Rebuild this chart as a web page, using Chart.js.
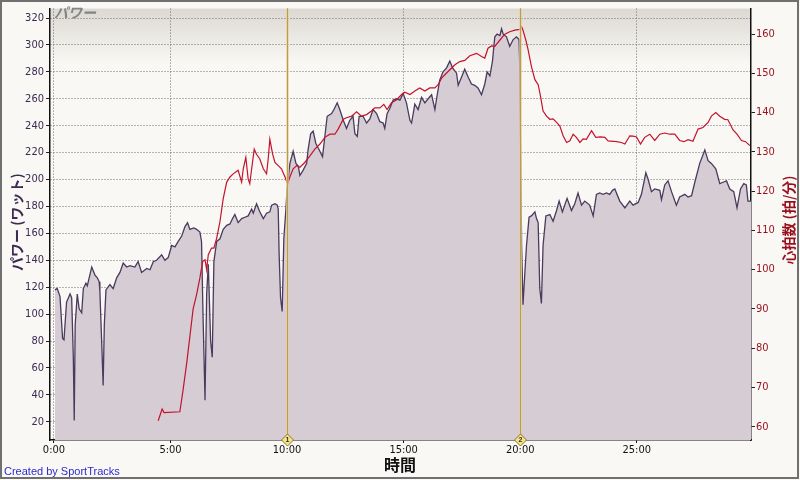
<!DOCTYPE html>
<html>
<head>
<meta charset="utf-8">
<script src="https://cdn.jsdelivr.net/npm/chart.js@4/dist/chart.umd.min.js"></script>
<style>
  html, body { margin: 0; padding: 0; background: #f9f8f4; }
  #wrap { width: 800px; height: 480px; position: relative; }
</style>
</head>
<body>
<div id="wrap"><canvas id="powerChart" width="800" height="480"></canvas></div>
<script>
// time in minutes, power in watts
const powerTime = [0.04, 0.14, 0.26, 0.37, 0.43, 0.54, 0.69, 0.76, 0.83, 0.87, 0.91, 1.00, 1.08, 1.19, 1.26, 1.37, 1.43, 1.51, 1.62, 1.76,
  1.86, 1.94, 1.97, 2.05, 2.11, 2.16, 2.23, 2.40, 2.54, 2.69, 2.83, 2.97, 3.12, 3.26, 3.47, 3.61, 3.76, 3.98, 4.12, 4.26,
  4.40, 4.62, 4.76, 4.90, 5.05, 5.19, 5.33, 5.48, 5.62, 5.73, 5.83, 6.00, 6.12, 6.26, 6.33, 6.40, 6.48, 6.55, 6.62, 6.72,
  6.79, 6.86, 6.98, 7.12, 7.26, 7.41, 7.55, 7.66, 7.76, 7.90, 8.05, 8.19, 8.33, 8.48, 8.55, 8.69, 8.83, 8.98, 9.12, 9.26,
  9.34, 9.48, 9.58, 9.62, 9.66, 9.72, 9.79, 9.86, 9.95, 10.00, 10.12, 10.26, 10.38, 10.48, 10.55, 10.69, 10.84, 10.90, 11.01, 11.12,
  11.23, 11.38, 11.52, 11.62, 11.72, 11.91, 12.01, 12.15, 12.26, 12.41, 12.55, 12.69, 12.83, 12.91, 13.01, 13.09, 13.26, 13.41, 13.55, 13.69,
  13.84, 13.98, 14.12, 14.19, 14.29, 14.41, 14.55, 14.70, 14.84, 14.98, 15.12, 15.27, 15.34, 15.48, 15.62, 15.77, 15.91, 16.05, 16.20, 16.34,
  16.44, 16.55, 16.69, 16.84, 16.98, 17.10, 17.27, 17.34, 17.48, 17.62, 17.77, 17.91, 18.05, 18.19, 18.34, 18.48, 18.58, 18.70, 18.81, 18.91,
  19.01, 19.13, 19.20, 19.27, 19.41, 19.55, 19.70, 19.84, 19.95, 19.98, 20.06, 20.12, 20.20, 20.27, 20.38, 20.48, 20.63, 20.70, 20.77, 20.84,
  20.91, 20.98, 21.10, 21.27, 21.41, 21.56, 21.67, 21.81, 22.01, 22.20, 22.34, 22.48, 22.63, 22.77, 22.98, 23.13, 23.27, 23.41, 23.55, 23.70,
  23.84, 23.96, 24.06, 24.27, 24.49, 24.70, 24.84, 25.06, 25.20, 25.39, 25.49, 25.63, 25.77, 25.99, 26.06, 26.20, 26.34, 26.49, 26.70, 26.84,
  27.06, 27.20, 27.35, 27.49, 27.70, 27.92, 28.06, 28.20, 28.39, 28.56, 28.70, 28.85, 28.99, 29.16, 29.30, 29.45, 29.59, 29.70, 29.77, 29.92];
const powerWatts = [118, 119, 113, 82, 81, 109, 115, 112, 68, 21, 92, 115, 104, 101, 119, 123, 121, 127, 135, 129,
  127, 124, 117, 78, 47, 92, 118, 122, 119, 127, 131, 138, 135, 136, 135, 139, 131, 134, 133, 139,
  140, 144, 140, 142, 151, 150, 154, 158, 165, 168, 163, 164, 163, 161, 154, 95, 36, 115, 137, 80,
  68, 139, 154, 156, 163, 166, 167, 171, 174, 168, 171, 172, 173, 178, 175, 182, 176, 171, 175, 176,
  181, 182, 181, 178, 144, 112, 102, 156, 178, 193, 212, 221, 212, 210, 203, 207, 212, 222, 234, 236,
  227, 222, 217, 232, 247, 249, 252, 257, 252, 244, 238, 244, 247, 234, 232, 247, 247, 242, 245, 252,
  249, 243, 242, 238, 249, 253, 259, 260, 259, 264, 257, 244, 242, 256, 252, 261, 257, 260, 263, 252,
  263, 274, 280, 283, 288, 283, 279, 270, 276, 282, 276, 271, 270, 268, 263, 271, 280, 277, 288, 306,
  308, 307, 312, 308, 306, 299, 304, 306, 304, 286, 151, 107, 131, 151, 172, 173, 176, 171, 168, 119,
  108, 151, 173, 174, 169, 177, 184, 176, 186, 177, 182, 190, 181, 184, 181, 173, 189, 190, 189, 190,
  189, 192, 193, 184, 179, 184, 181, 183, 189, 205, 200, 191, 193, 192, 185, 196, 199, 191, 181, 187,
  189, 187, 188, 198, 212, 222, 214, 212, 208, 197, 198, 199, 193, 191, 179, 193, 197, 196, 184, 184];

// time in minutes, heart rate in bpm
const hrTime = [4.47, 4.64, 4.72, 5.40, 5.53, 5.69, 5.83, 5.97, 6.12, 6.26, 6.38, 6.48, 6.55, 6.62, 6.76, 6.86, 6.98, 7.12, 7.26, 7.41,
  7.55, 7.69, 7.90, 8.05, 8.12, 8.23, 8.33, 8.40, 8.48, 8.59, 8.69, 8.83, 8.98, 9.12, 9.19, 9.26, 9.38, 9.48, 9.62, 9.76,
  9.91, 10.02, 10.12, 10.26, 10.41, 10.55, 10.76, 10.98, 11.19, 11.41, 11.62, 11.84, 12.05, 12.19, 12.41, 12.55, 12.77, 12.98, 13.19, 13.41,
  13.62, 13.76, 13.98, 14.15, 14.29, 14.48, 14.70, 14.91, 15.05, 15.27, 15.48, 15.69, 15.91, 16.12, 16.34, 16.48, 16.63, 16.84, 17.05, 17.20,
  17.41, 17.62, 17.84, 18.13, 18.34, 18.48, 18.62, 18.77, 18.91, 19.13, 19.34, 19.55, 19.77, 19.98, 20.06, 20.12, 20.24, 20.34, 20.48, 20.63,
  20.77, 20.87, 20.98, 21.13, 21.27, 21.41, 21.56, 21.70, 21.84, 21.99, 22.13, 22.27, 22.41, 22.56, 22.70, 22.84, 23.06, 23.24, 23.44, 23.63,
  23.77, 24.01, 24.13, 24.34, 24.49, 24.70, 24.84, 24.99, 25.16, 25.34, 25.56, 25.77, 25.99, 26.20, 26.41, 26.63, 26.84, 27.02, 27.20, 27.41,
  27.63, 27.84, 28.06, 28.20, 28.39, 28.56, 28.77, 28.91, 29.13, 29.30, 29.49, 29.67, 29.85];
const hrBpm = [61.5, 64.5, 63.6, 63.8, 69, 76, 83, 90, 93.7, 97.9, 102.1, 102.5, 100, 103.8, 105.5, 105.5, 108, 112.2, 118.1, 122.3,
  123.6, 124.4, 125.3, 122.3, 125.7, 128.6, 123.1, 121.9, 125.7, 130.7, 129.4, 128.2, 125.7, 124.4, 128.2, 133.2, 129.4, 127.3, 126.5, 125.7,
  123.6, 121.9, 123.6, 125.7, 126.5, 126.1, 127.3, 129, 130.7, 132, 133.7, 134.5, 134.5, 135.8, 138.3, 138.7, 139.1, 140.2, 139.1, 139.5,
  140.4, 141.2, 141.2, 142.1, 140.8, 142.5, 143.3, 144.6, 145.2, 144.6, 145.5, 146.3, 145.5, 146.3, 146.3, 147.1, 148.8, 150.1, 151.3, 152.2,
  153, 153.3, 154.5, 155.1, 154.3, 153.9, 156.4, 157, 156.9, 158.5, 160, 160.6, 161, 161.2, 161.9, 161, 158.5, 156, 151.8, 148.4,
  147.1, 144.2, 140.4, 139.1, 138.3, 138.4, 137.5, 136.6, 134.1, 132.4, 132.8, 134.5, 133.7, 132.4, 133.3, 133.2, 135.4, 133.7, 133.8, 133.7,
  132.8, 132.7, 132.6, 132.4, 132, 134.1, 134, 133.8, 132, 133.7, 134.5, 132.9, 134.5, 134.8, 134.5, 134.5, 132.9, 132.6, 133.1, 132.7,
  135.8, 136.2, 137.5, 139.1, 140, 139.1, 138.3, 138.2, 135.6, 134.5, 132.9, 132.6, 131.6];

const timeTicks = [0, 5, 10, 15, 20, 25];
const powerTicks = [20, 40, 60, 80, 100, 120, 140, 160, 180, 200, 220, 240, 260, 280, 300, 320];
const hrTicks = [60, 70, 80, 90, 100, 110, 120, 130, 140, 150, 160];
const lapTimes = [10.0, 20.0];
const lapLabels = ['1', '2'];

const tickFont = { family: "'DejaVu Sans Condensed', 'Liberation Sans Narrow', sans-serif", size: 11 };
const jpFont = "'Noto Sans CJK JP', 'Noto Sans', sans-serif";

function pairs(xs, ys) {
  return xs.map((x, i) => ({ x: x, y: ys[i] }));
}

// background, lap markers and extra labels
const decorPlugin = {
  id: 'decor',
  beforeDraw(chart) {
    const { ctx, chartArea: a } = chart;
    ctx.save();
    ctx.fillStyle = '#f9f8f4';
    ctx.fillRect(0, 0, chart.width, chart.height);
    const g = ctx.createLinearGradient(0, a.top, 0, a.top + 55);
    g.addColorStop(0, '#dcd8d2');
    g.addColorStop(1, '#f9f8f4');
    ctx.fillStyle = g;
    ctx.fillRect(a.left, a.top, a.right - a.left, a.bottom - a.top);
    // frame
    ctx.strokeStyle = '#707070';
    ctx.lineWidth = 2;
    ctx.strokeRect(1, 1, chart.width - 3, chart.height - 3);
    ctx.restore();
  },
  afterDatasetsDraw(chart) {
    const { ctx, chartArea: a, scales } = chart;
    ctx.save();
    lapTimes.forEach((t, i) => {
      const x = Math.round(scales.x.getPixelForValue(t)) + 0.5;
      ctx.strokeStyle = 'rgba(230, 210, 160, 0.7)';
      ctx.lineWidth = 3;
      ctx.beginPath(); ctx.moveTo(x, a.top); ctx.lineTo(x, a.bottom); ctx.stroke();
      ctx.strokeStyle = '#bf9a48';
      ctx.lineWidth = 1;
      ctx.beginPath(); ctx.moveTo(x, a.top); ctx.lineTo(x, a.bottom); ctx.stroke();
      // diamond marker
      const y = a.bottom;
      ctx.beginPath();
      ctx.moveTo(x, y - 6); ctx.lineTo(x + 6, y); ctx.lineTo(x, y + 6); ctx.lineTo(x - 6, y); ctx.closePath();
      ctx.fillStyle = '#f3e48a';
      ctx.fill();
      ctx.strokeStyle = '#8c7433';
      ctx.lineWidth = 1;
      ctx.stroke();
      ctx.fillStyle = '#3a3020';
      ctx.font = 'bold 7px sans-serif';
      ctx.textAlign = 'center';
      ctx.textBaseline = 'middle';
      ctx.fillText(lapLabels[i], x, y + 0.5);
    });
    ctx.restore();
  },
  afterDraw(chart) {
    const { ctx, chartArea: a } = chart;
    ctx.save();
    // chart title
    ctx.fillStyle = '#858585';
    ctx.font = 'italic bold 14px ' + jpFont;
    ctx.textAlign = 'left';
    ctx.textBaseline = 'middle';
    ctx.fillText('パワー', a.left + 4, 13);
    // axis titles
    ctx.font = 'bold 14px ' + jpFont;
    ctx.textAlign = 'center';
    ctx.fillStyle = '#3c2a52';
    ctx.translate(17, 222);
    ctx.rotate(-Math.PI / 2);
    ctx.fillText('パワー (ワット)', 0, 0);
    ctx.setTransform(1, 0, 0, 1, 0, 0);
    ctx.fillStyle = '#9a0f1e';
    ctx.translate(789, 220);
    ctx.rotate(-Math.PI / 2);
    ctx.fillText('心拍数 (拍/分)', 0, 0);
    ctx.setTransform(1, 0, 0, 1, 0, 0);
    ctx.font = 'bold 16px ' + jpFont;
    ctx.fillStyle = '#111';
    ctx.fillText('時間', 400, 465);
    // credit
    ctx.font = '11px "Liberation Sans", Arial, sans-serif';
    ctx.textAlign = 'left';
    ctx.fillStyle = '#2b2bd0';
    ctx.fillText('Created by SportTracks', 4, 472);
    ctx.restore();
  }
};

const ctx = document.getElementById('powerChart').getContext('2d');
new Chart(ctx, {
  type: 'line',
  data: {
    datasets: [{
      label: 'パワー',
      data: pairs(powerTime, powerWatts),
      yAxisID: 'y',
      borderColor: '#4a3a5e',
      borderWidth: 1.3,
      backgroundColor: '#d5ccd4',
      fill: 'start',
      pointRadius: 0,
      tension: 0,
      order: 2
    },
    {
      label: '心拍数',
      data: pairs(hrTime, hrBpm),
      yAxisID: 'y2',
      borderColor: '#c4122c',
      borderWidth: 1.2,
      fill: false,
      pointRadius: 0,
      tension: 0,
      order: 1
    }]
  },
  options: {
    responsive: false,
    animation: false,
    events: [],
    layout: { padding: { top: 5, left: 0, right: 0, bottom: 0 } },
    plugins: {
      legend: { display: false },
      title: { display: false },
      tooltip: { enabled: false }
    },
    scales: {
      x: {
        type: 'linear',
        min: -0.17,
        max: 29.9,
        afterBuildTicks: (s) => { s.ticks = timeTicks.map(v => ({ value: v })); },
        afterFit: (s) => { s.height = 40; },
        ticks: {
          color: '#111',
          font: tickFont,
          padding: 1,
          maxRotation: 0,
          callback: (v) => v + ':00'
        },
        grid: { color: '#6e6e6e', tickColor: '#111', tickLength: 3, lineWidth: 1 },
        border: { color: '#111', width: 1.5, dash: [1, 2] }
      },
      y: {
        position: 'left',
        min: 6.5,
        max: 327,
        afterBuildTicks: (s) => { s.ticks = powerTicks.map(v => ({ value: v })); },
        afterFit: (s) => { s.width = 50; },
        ticks: { color: '#3c2a52', font: tickFont, padding: 2 },
        grid: { color: '#6e6e6e', tickColor: '#222', tickLength: 4, lineWidth: 1 },
        border: { color: '#111', width: 1.5, dash: [1, 2] }
      },
      y2: {
        position: 'right',
        min: 56.6,
        max: 166.5,
        afterBuildTicks: (s) => { s.ticks = hrTicks.map(v => ({ value: v })); },
        afterFit: (s) => { s.width = 49; },
        ticks: { color: '#9a0f1e', font: tickFont, padding: 1 },
        grid: { drawOnChartArea: false, tickColor: '#222', tickLength: 4 },
        border: { color: '#111', width: 1.5 }
      }
    }
  },
  plugins: [decorPlugin]
});
</script>
</body>
</html>
